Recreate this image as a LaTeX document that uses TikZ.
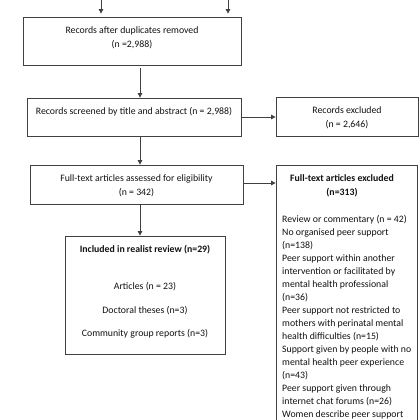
\documentclass[tikz,border=0pt]{standalone}
\usepackage{fontspec}
\setmainfont{Carlito}
\usetikzlibrary{arrows.meta}
\definecolor{linegray}{HTML}{404040}
\definecolor{txtgray}{HTML}{111111}
\begin{document}
\begin{tikzpicture}[x=1pt,y=-1pt,
  box/.style={draw=linegray, line width=0.8pt, inner sep=0pt},
  txt/.style={font=\fontsize{9.8}{14}\selectfont, text=txtgray, align=center, inner sep=0pt},
  btxt/.style={txt, font=\fontsize{9.8}{14}\selectfont\bfseries},
  ltxt/.style={font=\fontsize{9.8}{13}\selectfont, text=txtgray, inner sep=0pt, anchor=base west},
  arr/.style={-{Triangle[length=4.5pt,width=4.5pt]}, draw=linegray, line width=0.8pt}]
\useasboundingbox (0,0) rectangle (420,420);
\clip (0,0) rectangle (420,420);
% boxes
\node[box, minimum width=218pt, minimum height=48pt] (b1) at (132,41) {};
\node[box, minimum width=214pt, minimum height=38pt] (b2) at (134,117) {};
\node[box, minimum width=142pt, minimum height=39pt] (e1) at (347,116.5) {};
\node[box, minimum width=213pt, minimum height=39pt] (b3) at (136.5,184.5) {};
\node[box, minimum width=160pt, minimum height=118pt] (b4) at (145,295) {};
\node[box, minimum width=141pt, minimum height=295pt] (e2) at (346.5,312.5) {};
% texts
\node[txt] (t1) at (132,38) {Records after duplicates removed\\(n =2,988)};
\node[txt] (t2) at (134,112) {Records screened by title and abstract (n = 2,988)};
\node[txt] (t3) at (347,118) {Records excluded\\(n = 2,646)};
\node[txt] (t4) at (136.5,186) {Full-text articles assessed for eligibility\\(n = 342)};
\node[btxt] (t5) at (342,186) {Full-text articles excluded\\(n=313)};
\node[btxt] (t6) at (145,250) {Included in realist review (n=29)};
\node[txt] (t7) at (145,287) {Articles (n = 23)};
\node[txt] (t8) at (145,311) {Doctoral theses (n=3)};
\node[txt] (t9) at (145,334) {Community group reports (n=3)};
\foreach \s [count=\i] in {Review or commentary (n = 42),
  No organised peer support,
  (n=138),
  Peer support within another,
  intervention or facilitated by,
  mental health professional,
  (n=36),
  Peer support not restricted to,
  mothers with perinatal mental,
  health difficulties (n=15),
  Support given by people with no,
  mental health peer experience,
  (n=43),
  Peer support given through,
  internet chat forums (n=26),
  Women describe peer support}
  \node[ltxt] (x\i) at (282,{222.5+13*(\i-1)}) {\s};
% arrows
\coordinate (s1) at (101,0);
\coordinate (s2) at (228,0);
\coordinate (c1) at (140,0);
\draw[arr, shorten >=3pt] (s1) -- (s1 |- b1.north);
\draw[arr, shorten >=3pt] (s2) -- (s2 |- b1.north);
\draw[arr, shorten <=3pt] (c1 |- b1.south) -- (c1 |- b2.north);
\draw[arr] (c1 |- b2.south) -- (c1 |- b3.north);
\draw[arr] (c1 |- b3.south) -- (c1 |- b4.north);
\draw[arr] (b2.east) -- (b2.east -| e1.west);
\draw[arr] ([yshift=1.5pt]b3.east) -- ([yshift=1.5pt]b3.east -| e2.west);
\end{tikzpicture}
\end{document}
